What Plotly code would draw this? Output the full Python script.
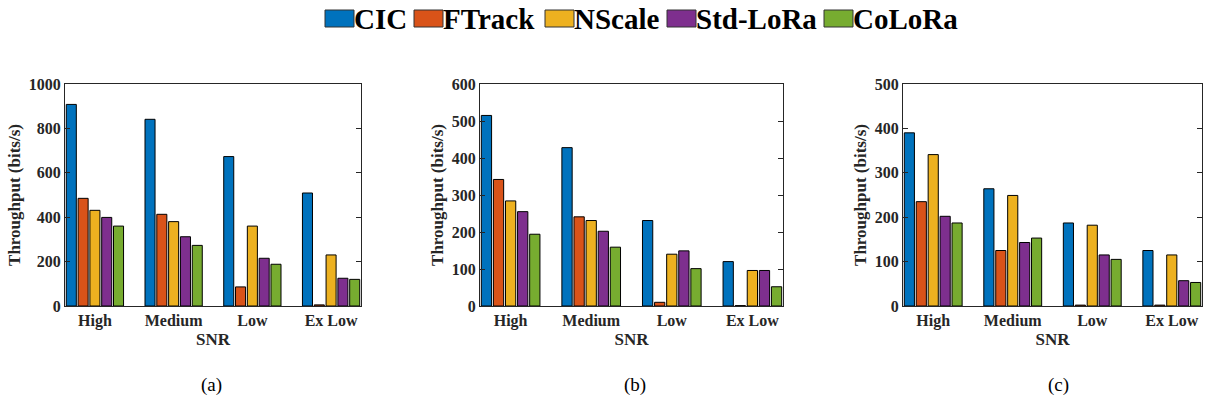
import plotly.graph_objects as go

categories = ["High", "Medium", "Low", "Ex Low"]
series_names = ["CIC", "FTrack", "NScale", "Std-LoRa", "CoLoRa"]
colors = ["#0072BD", "#D95319", "#EDB120", "#7E2F8E", "#77AC30"]

# panel (a)
a_cic = [908, 841, 673, 509]
a_ftrack = [485, 413, 86, 5]
a_nscale = [431, 380, 360, 230]
a_stdlora = [399, 312, 215, 125]
a_colora = [360, 273, 188, 120]

# panel (b)
b_cic = [515, 428, 231, 120]
b_ftrack = [342, 241, 10, 1]
b_nscale = [284, 231, 140, 96]
b_stdlora = [255, 202, 149, 96]
b_colora = [194, 159, 101, 52]

# panel (c)
c_cic = [390, 264, 187, 125]
c_ftrack = [235, 125, 2, 2]
c_nscale = [341, 249, 182, 115]
c_stdlora = [202, 143, 115, 57]
c_colora = [187, 153, 105, 53]

panels = [
    ([a_cic, a_ftrack, a_nscale, a_stdlora, a_colora], [0, 1000], 200, "(a)"),
    ([b_cic, b_ftrack, b_nscale, b_stdlora, b_colora], [0, 600], 100, "(b)"),
    ([c_cic, c_ftrack, c_nscale, c_stdlora, c_colora], [0, 500], 100, "(c)"),
]

W, H = 1206, 402
x_domains = [(65 / W, 361 / W), (480 / W, 783 / W), (903 / W, 1202 / W)]
y_domain = (1 - 306 / H, 1 - 84 / H)

FONT = "Liberation Serif, Times New Roman, serif"
AX = "#262626"

fig = go.Figure()
annotations = []
shapes = []
for i, (vals, yr, dt, cap) in enumerate(panels):
    xa = "x" if i == 0 else f"x{i+1}"
    ya = "y" if i == 0 else f"y{i+1}"
    for s, (name, col) in enumerate(zip(series_names, colors)):
        fig.add_trace(go.Bar(
            x=categories, y=vals[s], name=name, marker=dict(color=col, line=dict(color="black", width=1)),
            xaxis=xa, yaxis=ya, showlegend=False, legendgroup=name, offsetgroup=str(s),
        ))
    xkey = "xaxis" if i == 0 else f"xaxis{i+1}"
    ykey = "yaxis" if i == 0 else f"yaxis{i+1}"
    fig.layout[xkey] = dict(
        domain=x_domains[i], anchor=ya, range=[-0.38, 3.38], showline=True, linecolor=AX,
        linewidth=1, mirror=True, ticks="", showgrid=False,
        tickfont=dict(family=FONT, size=16, color=AX, weight="bold"),
        title=dict(text="SNR", font=dict(family=FONT, size=17, color=AX, weight="bold"), standoff=3),
    )
    fig.layout[ykey] = dict(
        domain=y_domain, anchor=xa, range=yr, dtick=dt, showline=True, linecolor=AX,
        linewidth=1, mirror="ticks", ticks="inside", ticklen=5, tickcolor=AX, showgrid=False,
        zeroline=False,
        tickfont=dict(family=FONT, size=16, color=AX, weight="bold"),
        title=dict(text="Throughput (bits/s)", font=dict(family=FONT, size=17, color=AX, weight="bold"), standoff=3),
    )
    annotations.append(dict(
        text=cap, x=[211, 635, 1058][i] / W, y=1 - 385 / H, xref="paper", yref="paper",
        showarrow=False, font=dict(family=FONT, size=19, color="black"),
        xanchor="center", yanchor="middle",
    ))

# custom legend (large rectangular swatches like the original)
legend_icon_x = [325, 414, 545, 667, 824]
icon_w, icon_top, icon_bot = 29, 10, 27
for name, col, x0 in zip(series_names, colors, legend_icon_x):
    shapes.append(dict(
        type="rect", xref="paper", yref="paper",
        x0=x0 / W, x1=(x0 + icon_w) / W, y0=1 - icon_bot / H, y1=1 - icon_top / H,
        fillcolor=col, line=dict(color="#333333", width=1),
    ))
    annotations.append(dict(
        text=name, x=(x0 + icon_w) / W, y=1 - 19 / H, xref="paper", yref="paper",
        showarrow=False, xanchor="left", yanchor="middle", xshift=-2,
        font=dict(family=FONT, size=29, color="black", weight="bold"),
    ))

fig.update_layout(
    width=W, height=H, margin=dict(l=0, r=0, t=0, b=0, autoexpand=False),
    paper_bgcolor="white", plot_bgcolor="white",
    barmode="group", bargap=0.25, bargroupgap=0.15,
    showlegend=False,
    annotations=annotations, shapes=shapes,
)

fig.write_html("out.html", config={"displayModeBar": False},
               post_script="document.body.style.margin='0';document.body.style.overflow='hidden';")
